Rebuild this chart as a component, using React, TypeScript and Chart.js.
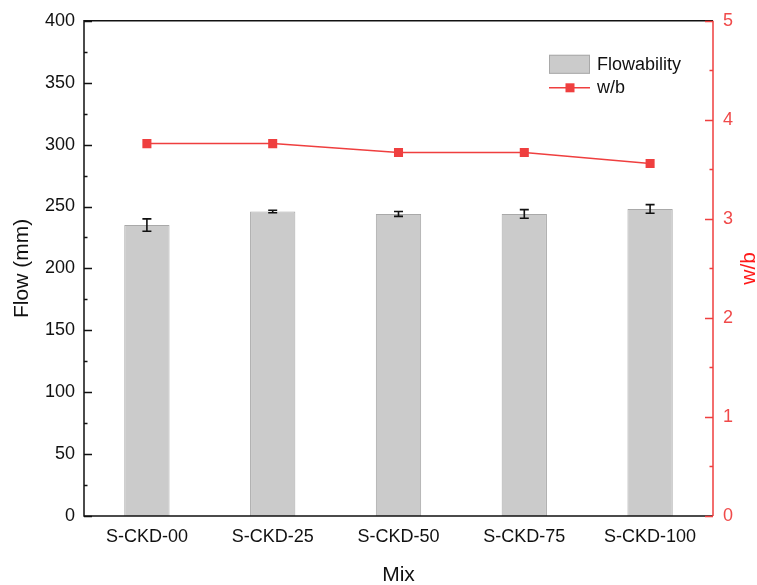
import React, { useEffect, useRef } from "react";
import { Chart, registerables } from "chart.js";

Chart.register(...registerables);

// Mix designations along the x axis
const mixes = ["S-CKD-00", "S-CKD-25", "S-CKD-50", "S-CKD-75", "S-CKD-100"];
// Flow table spread (mm) with standard deviation
const flowValues = [235, 246, 244, 244, 248];
const flowErrors = [5, 1, 2, 3.5, 3.5];
// Water-to-binder ratio of each mix
const wbValues = [3.76, 3.76, 3.67, 3.67, 3.56];

// Axis ranges
const flowMin = 0;
const flowMax = 400;
const flowStep = 50;
const wbMin = 0;
const wbMax = 5;
const wbStep = 1;

const FONT = "'Liberation Sans', Arial, sans-serif";
const RED = "#ef3f3f";
const RED_TEXT = "#f04a4a";
const WB_TITLE = "w/b";

const decorPlugin = {
  id: "decor",
  afterDatasetsDraw(chart: any) {
    const { ctx, scales } = chart;
    const y = scales.y;

    // error bars on the flow bars
    const meta = chart.getDatasetMeta(0);
    ctx.save();
    ctx.strokeStyle = "#111";
    ctx.lineWidth = 1.6;
    meta.data.forEach((bar: any, i: number) => {
      const v = flowValues[i];
      const e = flowErrors[i];
      const top = y.getPixelForValue(v + e);
      const bot = y.getPixelForValue(v - e);
      const x = bar.x;
      ctx.beginPath();
      ctx.moveTo(x, top);
      ctx.lineTo(x, bot);
      ctx.moveTo(x - 4.5, top);
      ctx.lineTo(x + 4.5, top);
      ctx.moveTo(x - 4.5, bot);
      ctx.lineTo(x + 4.5, bot);
      ctx.stroke();
    });
    ctx.restore();
  },
  afterDraw(chart: any) {
    const { ctx, chartArea, scales } = chart;
    const { left, right, top, bottom } = chartArea;
    const y = scales.y;
    const y1 = scales.y1;

    ctx.save();
    ctx.lineWidth = 1.5;

    // left axis ticks (inward), majors every 50, minors between
    ctx.strokeStyle = "#111";
    ctx.beginPath();
    for (let v = flowMin; v <= flowMax; v += flowStep / 2) {
      const py = Math.round(y.getPixelForValue(v)) + 0.5;
      const len = v % flowStep === 0 ? 8 : 3.5;
      ctx.moveTo(left, py);
      ctx.lineTo(left + len, py);
    }
    ctx.stroke();

    // frame: top, left, bottom in black
    ctx.beginPath();
    ctx.moveTo(right, top);
    ctx.lineTo(left, top);
    ctx.lineTo(left, bottom);
    ctx.lineTo(right, bottom);
    ctx.stroke();

    // right axis in red with inward ticks
    ctx.strokeStyle = RED;
    ctx.beginPath();
    ctx.moveTo(right, top);
    ctx.lineTo(right, bottom);
    for (let v = wbMin; v <= wbMax + 1e-9; v += wbStep / 2) {
      const py = Math.round(y1.getPixelForValue(v)) + 0.5;
      const major = Math.abs(v - Math.round(v)) < 1e-9;
      const len = major ? 8 : 3.5;
      ctx.moveTo(right, py);
      ctx.lineTo(right - len, py);
    }
    ctx.stroke();

    // right axis title, reading bottom to top
    ctx.save();
    ctx.translate(749, (top + bottom) / 2);
    ctx.rotate(-Math.PI / 2);
    ctx.font = `21px ${FONT}`;
    ctx.fillStyle = "#ff1a1a";
    ctx.textAlign = "center";
    ctx.textBaseline = "middle";
    ctx.fillText(WB_TITLE, 0, 0);
    ctx.restore();

    // legend
    const ds = chart.data.datasets;
    const lx = right - 164;
    const ly = top + 34;
    ctx.font = `18px ${FONT}`;
    ctx.textBaseline = "middle";
    ctx.textAlign = "left";

    ctx.fillStyle = ds[0].backgroundColor;
    ctx.strokeStyle = ds[0].borderColor;
    ctx.lineWidth = 1;
    ctx.fillRect(lx, ly, 41, 19);
    ctx.strokeRect(lx + 0.5, ly + 0.5, 40, 18);
    ctx.fillStyle = "#111";
    ctx.fillText(ds[0].label, lx + 48, ly + 10);

    const ly2 = ly + 33;
    ctx.strokeStyle = ds[1].borderColor;
    ctx.lineWidth = 1.5;
    ctx.beginPath();
    ctx.moveTo(lx, ly2);
    ctx.lineTo(lx + 41, ly2);
    ctx.stroke();
    ctx.fillStyle = ds[1].pointBackgroundColor;
    ctx.fillRect(lx + 16.5, ly2 - 4.5, 9, 9);
    ctx.fillStyle = "#111";
    ctx.fillText(ds[1].label, lx + 48, ly2);

    ctx.restore();
  },
};

export default function App() {
  const canvasRef = useRef<HTMLCanvasElement | null>(null);

  useEffect(() => {
    const canvas = canvasRef.current;
    if (!canvas) return;
    const chart = new Chart(canvas, {
      type: "bar",
      data: {
        labels: mixes,
        datasets: [
          {
            type: "bar",
            label: "Flowability",
            data: flowValues,
            yAxisID: "y",
            backgroundColor: "#cbcbcb",
            borderColor: "#a9a9a9",
            borderWidth: 1,
            barPercentage: 0.36,
            categoryPercentage: 1,
            order: 1,
          },
          {
            type: "line",
            label: "w/b",
            data: wbValues,
            yAxisID: "y1",
            borderColor: RED,
            borderWidth: 1.5,
            pointStyle: "rect",
            pointRadius: 6.4,
            pointBackgroundColor: RED,
            pointBorderColor: RED,
            pointBorderWidth: 0,
            tension: 0,
            order: 0,
          } as any,
        ],
      },
      options: {
        responsive: false,
        animation: false,
        devicePixelRatio: 1,
        layout: { padding: { top: 20, left: 0, right: 0, bottom: 0 } },
        plugins: {
          legend: { display: false },
          tooltip: { enabled: false },
        },
        scales: {
          x: {
            offset: true,
            grid: { display: false, drawTicks: false },
            border: { display: false },
            ticks: {
              color: "#111",
              font: { family: FONT, size: 18 },
              padding: 10,
              maxRotation: 0,
            },
            title: {
              display: true,
              text: "Mix",
              color: "#111",
              font: { family: FONT, size: 21, lineHeight: 1 },
              padding: { top: 0, bottom: -1 },
            },
            afterFit(scale: any) {
              scale.height = 69;
            },
          },
          y: {
            position: "left",
            min: flowMin,
            max: flowMax,
            grid: { display: false, drawTicks: false },
            border: { display: false },
            ticks: {
              stepSize: flowStep,
              color: "#111",
              font: { family: FONT, size: 18 },
              padding: 9,
            },
            title: {
              display: true,
              text: "Flow (mm)",
              color: "#111",
              font: { family: FONT, size: 21, lineHeight: 1.2 },
              padding: { top: 10, bottom: 0 },
            },
            afterFit(scale: any) {
              scale.width = 84;
            },
          },
          y1: {
            position: "right",
            min: wbMin,
            max: wbMax,
            grid: { display: false, drawTicks: false },
            border: { display: false },
            ticks: {
              stepSize: wbStep,
              color: RED_TEXT,
              font: { family: FONT, size: 18 },
              padding: 10,
            },
            title: { display: false },
            afterFit(scale: any) {
              scale.width = 44;
            },
          },
        },
      },
      plugins: [decorPlugin],
    });
    return () => chart.destroy();
  }, []);

  return (
    <div style={{ position: "fixed", left: 0, top: 0, width: 757, height: 585, background: "#fff" }}>
      <canvas ref={canvasRef} width={757} height={585} style={{ display: "block" }} />
    </div>
  );
}
